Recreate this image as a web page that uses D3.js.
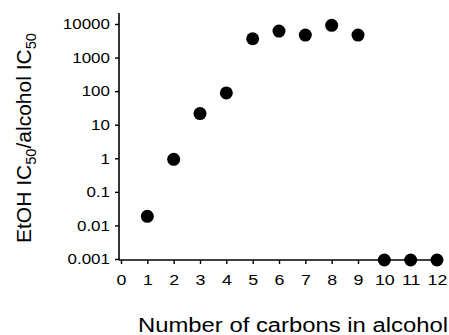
<!DOCTYPE html>
<html>
<head>
<meta charset="utf-8">
<script src="https://cdn.jsdelivr.net/npm/d3@7"></script>
<style>
  body { margin: 0; background: #fff; }
  svg { display: block; font-family: "Liberation Sans", Arial, sans-serif; }
</style>
</head>
<body>
<svg id="chart" width="449" height="335"></svg>
<script>
// data
const carbons = [1, 2, 3, 4, 5, 6, 7, 8, 9, 10, 11, 12];
const ratio = [0.02, 1, 23, 95, 3900, 6600, 5000, 9800, 5000, 0.001, 0.001, 0.001];
const xTicks = [0, 1, 2, 3, 4, 5, 6, 7, 8, 9, 10, 11, 12];
const yTicks = [0.001, 0.01, 0.1, 1, 10, 100, 1000, 10000];
const yTickLabels = ['0.001', '0.01', '0.1', '1', '10', '100', '1000', '10000'];

const svg = d3.select('#chart');

const x = d3.scaleLinear().domain([0, 12]).range([121, 437]);
const y = d3.scaleLog().domain([0.001, 10000]).range([259, 24]);

// y axis
const yAxis = svg.append('g')
  .attr('transform', `translate(${x(0) - 2}, 0)`)
  .call(d3.axisLeft(y).tickValues(yTicks)
    .tickFormat((d, i) => yTickLabels[i]).tickSize(4).tickPadding(4).tickSizeOuter(0));
yAxis.select('.domain').remove();
yAxis.append('line')
  .attr('y1', y(0.001) + 1).attr('y2', y(10000) - 11)
  .attr('stroke', '#000').attr('stroke-width', 1.6);
yAxis.selectAll('.tick line').attr('stroke-width', 1.4);
yAxis.selectAll('.tick text')
  .attr('font-size', 15).attr('fill', '#000')
  .attr('font-family', '"Liberation Sans", Arial, sans-serif')
  .attr('transform', 'scale(1.13, 1)');

// x axis
const xAxis = svg.append('g')
  .attr('transform', `translate(0, ${y(0.001) + 1})`)
  .call(d3.axisBottom(x).tickValues(xTicks).tickSize(4).tickPadding(10).tickSizeOuter(0));
xAxis.select('.domain').remove();
xAxis.append('line')
  .attr('x1', x(0) - 2).attr('x2', x(12) + 4)
  .attr('stroke', '#000').attr('stroke-width', 1.6);
xAxis.selectAll('.tick line').attr('stroke-width', 1.4);
xAxis.selectAll('.tick text')
  .attr('font-size', 15.5).attr('fill', '#000')
  .attr('font-family', '"Liberation Sans", Arial, sans-serif')
  .attr('transform', 'scale(1.15, 1)');

// points
svg.append('g').selectAll('circle')
  .data(carbons)
  .enter()
  .append('circle')
    .attr('cx', (d) => x(d))
    .attr('cy', (d, i) => y(ratio[i]) + 1)
    .attr('r', 6.5)
    .attr('fill', '#000');

// axis titles
svg.append('text')
  .attr('x', 293)
  .attr('y', 332)
  .attr('text-anchor', 'middle')
  .attr('font-size', 20)
  .attr('textLength', 310)
  .attr('lengthAdjust', 'spacingAndGlyphs')
  .attr('fill', '#000')
  .text('Number of carbons in alcohol');

const yTitle = svg.append('text')
  .attr('transform', 'translate(31, 138) rotate(-90) scale(1.05, 1)')
  .attr('text-anchor', 'middle')
  .attr('font-size', 20)
  .attr('fill', '#000');
yTitle.append('tspan').text('EtOH IC');
yTitle.append('tspan').attr('dy', 5).attr('font-size', 14).text('50');
yTitle.append('tspan').attr('dy', -5).text('/alcohol IC');
yTitle.append('tspan').attr('dy', 5).attr('font-size', 14).text('50');
</script>
</body>
</html>
